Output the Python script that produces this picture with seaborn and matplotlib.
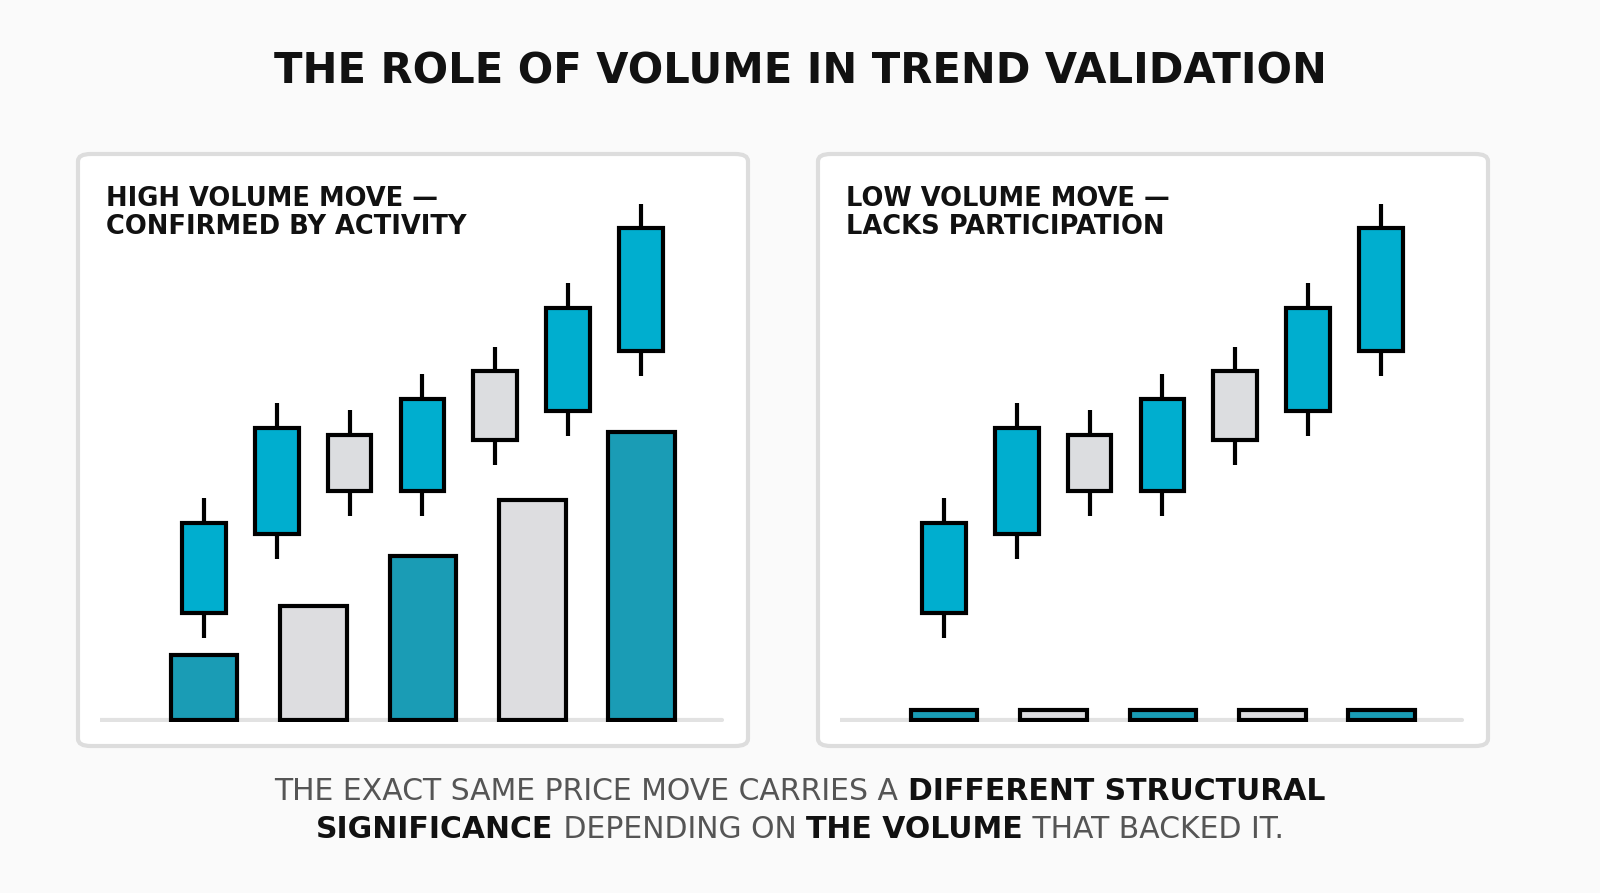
import matplotlib
matplotlib.use("Agg")
import matplotlib.pyplot as plt
from matplotlib.patches import FancyBboxPatch
import seaborn as sns
import pandas as pd

sns.set_theme(style="white")
FONT = ['Liberation Sans Narrow', 'DejaVu Sans']
plt.rcParams['font.family'] = FONT

BLUE = "#00AECF"
GRAY = "#DCDDE0"

# candle data (same price move in both panels)
c_open  = [21.4, 37.2, 57.0, 45.8, 69.8, 61.8, 73.8]
c_close = [39.4, 58.4, 45.8, 64.2, 56.0, 82.4, 98.4]
c_low   = [16.4, 32.2, 40.8, 40.8, 51.0, 56.8, 68.8]
c_high  = [44.4, 63.4, 62.0, 69.2, 74.6, 87.4, 103.2]
vol_high = [13.0, 22.8, 32.8, 44.0, 57.6]
vol_low = [2.0, 2.0, 2.0, 2.0, 2.0]
vol_kind = ["up", "down", "up", "down", "up"]
titles = ["HIGH VOLUME MOVE —\nCONFIRMED BY ACTIVITY", "LOW VOLUME MOVE —\nLACKS PARTICIPATION"]

W, H = 1600, 893
fig = plt.figure(figsize=(16, 8.93), dpi=100)
fig.patch.set_facecolor("#FAFAFA")

def fx(p): return p / W
def fy(p): return 1 - p / H

fig.text(0.5, fy(72), "THE ROLE OF VOLUME IN TREND VALIDATION", ha="center", va="center",
         fontsize=30, fontweight="bold", color="#111111")

for k, (x0, vols) in enumerate([(78, vol_high), (818, vol_low)]):
    box = FancyBboxPatch((fx(x0), fy(746)), fx(670), (746 - 154) / H,
                         boxstyle="round,pad=0,rounding_size=0.008", transform=fig.transFigure,
                         facecolor="white", edgecolor="#DDDDDD", linewidth=3, zorder=-5)
    fig.patches.append(box)
    fig.text(fx(x0 + 28), fy(186), titles[k], ha="left", va="top", fontsize=18.5,
             fontweight="bold", color="#111111", linespacing=1.1, zorder=6)
    ax = fig.add_axes([fx(x0 + 22), fy(722), fx(628), (722 - 195) / H])
    ax.set_zorder(5)
    ax.set_facecolor("none")
    ax.patch.set_alpha(0)
    ax.set_xlim(-1.43, 7.2)
    ax.set_ylim(-0.4, 105)
    ax.axhline(0, xmin=0.0, xmax=0.99, color="#E2E2E2", lw=3, zorder=1)
    # volume bars via seaborn
    vpos = [j * 1.504 for j in range(5)]
    df = pd.DataFrame({"x": vpos, "v": vols, "kind": vol_kind})
    sns.barplot(data=df, x="x", y="v", hue="kind", palette={"up": BLUE, "down": GRAY},
                native_scale=True, width=0.61, edgecolor="black", linewidth=3,
                legend=False, ax=ax, zorder=3)
    # candles
    for i in range(7):
        up = c_close[i] > c_open[i]
        lo, hi = min(c_open[i], c_close[i]), max(c_open[i], c_close[i])
        ax.vlines(i, c_low[i], c_high[i], color="black", lw=3, zorder=4)
        ax.bar(i, hi - lo, bottom=lo, width=0.6, color=BLUE if up else GRAY,
               edgecolor="black", linewidth=3, zorder=5)
    ax.set_xlim(-1.43, 7.2)
    ax.set_ylim(-0.4, 105)
    ax.set_axis_off()

# footer with mixed styling
lines = [
    [("THE EXACT SAME PRICE MOVE CARRIES A ", False), ("DIFFERENT STRUCTURAL", True)],
    [("SIGNIFICANCE", True), (" DEPENDING ON ", False), ("THE VOLUME", True), (" THAT BACKED IT.", False)],
]
fig.canvas.draw()
r = fig.canvas.get_renderer()
for li, (segs, yp) in enumerate(zip(lines, [792, 829])):
    texts = []
    for s, b in segs:
        t = fig.text(0, fy(yp), s, fontsize=21.5, fontweight="bold" if b else "normal",
                     color="#111111" if b else "#555555", va="center", ha="left")
        texts.append(t)
    widths = [t.get_window_extent(r).width for t in texts]
    x = (W - sum(widths)) / 2
    for t, w in zip(texts, widths):
        t.set_x(x / W)
        x += w

fig.savefig("out.png", dpi=100, facecolor=fig.get_facecolor())
